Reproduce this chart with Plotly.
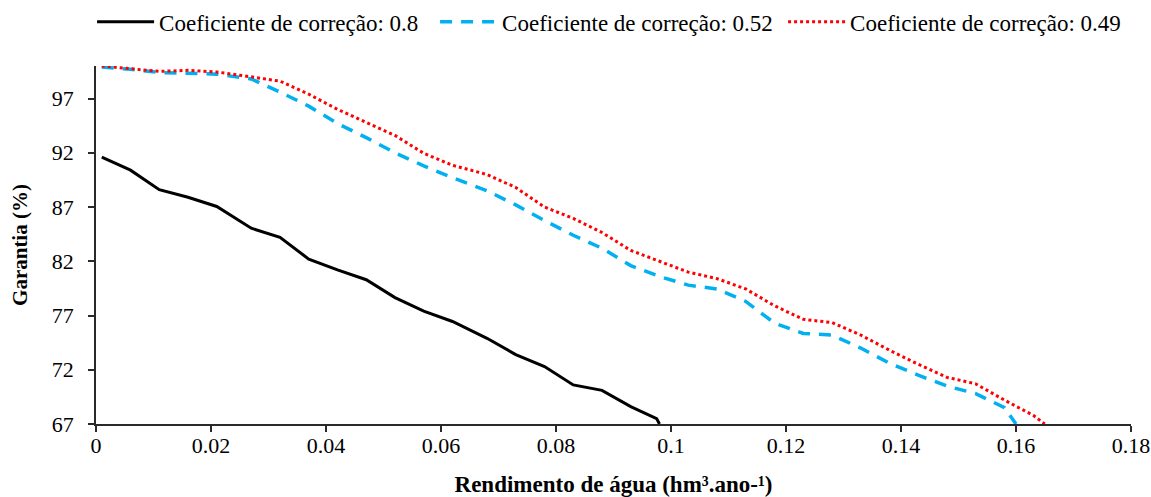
import plotly.graph_objects as go

# Data
x_black = [0.001, 0.006, 0.011, 0.016, 0.021, 0.027, 0.032, 0.037, 0.042, 0.047, 0.052,
           0.057, 0.062, 0.068, 0.073, 0.078, 0.083, 0.088, 0.093, 0.0975, 0.098]
y_black = [91.6, 90.4, 88.6, 87.9, 87.05, 85.05, 84.2, 82.2, 81.2, 80.3, 78.65,
           77.4, 76.45, 74.9, 73.4, 72.3, 70.6, 70.1, 68.6, 67.5, 67.0]

x_blue = [0.001, 0.006, 0.011, 0.016, 0.021, 0.027, 0.032, 0.037, 0.042, 0.047, 0.052,
          0.057, 0.062, 0.068, 0.073, 0.078, 0.083, 0.088, 0.093, 0.098, 0.103, 0.108,
          0.113, 0.118, 0.123, 0.128, 0.133, 0.138, 0.143, 0.148, 0.153, 0.158, 0.160]
y_blue = [99.9, 99.7, 99.4, 99.3, 99.25, 98.8, 97.6, 96.3, 94.7, 93.4, 92.0,
          90.8, 89.7, 88.5, 87.2, 85.75, 84.4, 83.2, 81.6, 80.6, 79.8, 79.45,
          78.3, 76.3, 75.35, 75.2, 74.0, 72.6, 71.5, 70.5, 69.8, 68.5, 67.0]

x_red = [0.001, 0.006, 0.011, 0.016, 0.021, 0.027, 0.032, 0.037, 0.042, 0.047, 0.052,
         0.057, 0.062, 0.068, 0.073, 0.078, 0.083, 0.088, 0.093, 0.098, 0.103, 0.108,
         0.113, 0.118, 0.123, 0.128, 0.133, 0.138, 0.143, 0.148, 0.153, 0.158, 0.163, 0.165]
y_red = [100.0, 99.75, 99.5, 99.6, 99.45, 99.0, 98.6, 97.4, 96.0, 94.8, 93.6,
         91.95, 90.85, 90.0, 88.8, 87.0, 85.95, 84.65, 83.0, 82.0, 81.0, 80.4,
         79.45, 77.9, 76.65, 76.35, 75.2, 73.8, 72.5, 71.3, 70.7, 69.2, 67.8, 67.0]

names = ["Coeficiente de correção: 0.8", "Coeficiente de correção: 0.52",
         "Coeficiente de correção: 0.49"]

FONT = "Liberation Serif"

fig = go.Figure()
fig.add_trace(go.Scatter(x=x_black, y=y_black, mode="lines", name=names[0],
                         legendwidth=271,
                         line=dict(color="#000000", width=3)))
fig.add_trace(go.Scatter(x=x_blue, y=y_blue, mode="lines", name=names[1],
                         legendwidth=276,
                         line=dict(color="#00B0F0", width=3.5, dash="12px,9px")))
fig.add_trace(go.Scatter(x=x_red, y=y_red, mode="lines", name=names[2],
                         legendwidth=270,
                         line=dict(color="#FF0000", width=3, dash="3px,3px")))

fig.update_layout(
    width=1151, height=497,
    margin=dict(l=96, r=20, t=66, b=73, autoexpand=False),
    paper_bgcolor="white", plot_bgcolor="white",
    font=dict(family=FONT, size=22, color="#000000"),
    legend=dict(orientation="h", x=0.08, xanchor="left", xref="container",
                y=0.956, yanchor="middle", yref="container",
                font=dict(family=FONT, size=23), itemwidth=57,
                bgcolor="rgba(0,0,0,0)"),
    showlegend=True,
)
fig.update_xaxes(
    range=[0, 0.18], tick0=0, dtick=0.02, showgrid=False, zeroline=False,
    showline=True, linecolor="#2a2a2a", linewidth=1.5, automargin=False,
    ticks="outside", ticklen=6, tickcolor="#2a2a2a", tickwidth=1.5,
    tickfont=dict(family=FONT, size=22), ticklabelstandoff=-5,
    title=dict(text="<b>Rendimento de água (hm³.ano-¹)</b>",
               font=dict(family=FONT, size=23), standoff=20),
)
fig.update_yaxes(
    range=[67, 100], tick0=67, dtick=5, showgrid=False, zeroline=False,
    showline=True, linecolor="#2a2a2a", linewidth=1.5, automargin=False,
    ticks="outside", ticklen=6, tickcolor="#2a2a2a", tickwidth=1.5,
    tickfont=dict(family=FONT, size=22), ticklabelstandoff=10,
    title=dict(text="<b>Garantia (%)</b>", font=dict(family=FONT, size=21), standoff=18),
)

fig.write_html("out.html", config={"displayModeBar": False},
               post_script="document.body.style.margin='0';")
